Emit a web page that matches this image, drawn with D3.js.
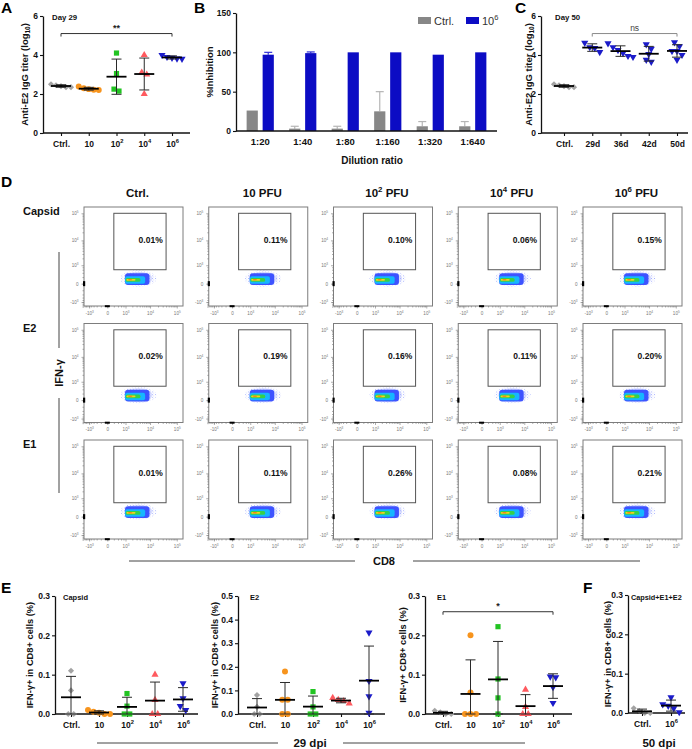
<!DOCTYPE html>
<html><head><meta charset="utf-8">
<script src="https://cdn.jsdelivr.net/npm/d3@7"></script>
<style>body{margin:0;background:#fff}svg{display:block}</style>
</head><body><script>
const FONT='"Liberation Sans", Arial, Helvetica, sans-serif';

// ================= DATA =================
// Panel A – anti-E2 IgG titer (log10), day 29
const aCategories=["Ctrl.","10","10^2","10^4","10^6"];
const aTiters=[[2.5,2.45,2.4,2.35,2.35],[2.38,2.3,2.25,2.22,2.2],[4.1,3.05,2.25,2.15],[4.0,3.1,3.0,2.0],[4.0,3.9,3.85,3.82,3.8]];
const aYTicks=[0,2,4,6];
// Panel B – %inhibition
const bDilutions=["1:20","1:40","1:80","1:160","1:320","1:640"];
const bSeries=["Ctrl.","10^6"];
const bCtrlInhibition=[26,3,3,25,6,6];
const bCtrlError=[0,3,3,25,6,6];
const bHighInhibition=[97,99,100,100,97,100];
const bHighError=[3,1.5,0,0,0,0];
const bYTicks=[0,50,100,150];
// Panel C – anti-E2 IgG titer, day 50
const cTimepoints=["Ctrl.","29d","36d","42d","50d"];
const cTiters=[[2.5,2.45,2.4,2.35,2.35],[4.62,4.4,4.35,4.15],[4.6,4.4,4.25,4.1,3.95,3.9],[4.55,4.32,4.05,3.75,3.65],[4.65,4.45,4.2,4.2,4.0,3.75]];
// Panel D – flow cytometry gates
const dColumns=["Ctrl.","10 PFU","10^2 PFU","10^4 PFU","10^6 PFU"];
const dRows=["Capsid","E2","E1"];
const dPercent=[[0.01,0.11,0.10,0.06,0.15],[0.02,0.19,0.16,0.11,0.20],[0.01,0.11,0.26,0.08,0.21]];
const flowTickValues=[-1000,0,1000,10000,100000];
const flowTickLabels=["-10^3","0","10^3","10^4","10^5"];
// Panel E – IFN-γ+ in CD8+ (%), 29 dpi
const eCategories=["Ctrl.","10","10^2","10^4","10^6"];
const eCapsid=[[0.11,0.06,0,0],[0.01,0.006,0.003,0,0],[0.052,0.02,0,0],[0.1,0.036,0,0],[0.078,0.04,0.02,0.01]];
const eE2=[[0.08,0.03,0,0],[0.18,0.06,0.06,0,0],[0.095,0.03,0,0],[0.068,0.06,0.055,0.045],[0.345,0.14,0.075,0.005]];
const eE1=[[0.008,0.004,0,0],[0.2,0.055,0,0,0],[0.222,0.089,0.041,0],[0.062,0.018,0,0],[0.095,0.093,0.068,0.028]];
// Panel F – 50 dpi
const fCategories=["Ctrl.","10^6"];
const fCombined=[[0.012,0.005,0,0],[0.04,0.022,0.018,0.012,0.002]];
const eYTicks03=[0,0.1,0.2,0.3];
const eYTicks05=[0,0.1,0.2,0.3,0.4,0.5];

// ================= STYLE =================
const DOSE_STYLE=[
  {fill:"#a3a3a3",shape:"diamond"},
  {fill:"#f7941d",shape:"circle"},
  {fill:"#22c422",shape:"square"},
  {fill:"#ff5a5f",shape:"triangle"},
  {fill:"#1b1bc9",shape:"tridown"}];
const GRAY=DOSE_STYLE[0], BLUE=DOSE_STYLE[4];

const svg=d3.select("body").append("svg").attr("width",692).attr("height",749)
  .style("font-family",FONT);

const defs=svg.append("defs");
const pat=defs.append("pattern").attr("id","speckle").attr("width",3.1).attr("height",2.7)
  .attr("patternUnits","userSpaceOnUse");
pat.append("rect").attr("width",0.8).attr("height",0.8).attr("fill","#3f55ff");
pat.append("rect").attr("x",1.6).attr("y",1.4).attr("width",0.7).attr("height",0.7).attr("fill","#6d7dff");
defs.append("filter").attr("id","soft").append("feGaussianBlur").attr("stdDeviation",0.4);

function supText(sel,str,fs){
  str=String(str); sel.text(null);
  const tokens=str.split(/(\^\d+|_\d+)/).filter(t=>t!=="");
  let shift=0;
  tokens.forEach(t=>{
    const ts=sel.append("tspan");
    let target=0,txt=t,size=null;
    if(t[0]==="^"){target=-fs*0.42;txt=t.slice(1);size=fs*0.68;}
    else if(t[0]==="_"){target=fs*0.28;txt=t.slice(1);size=fs*0.68;}
    if(target!==shift){ts.attr("dy",target-shift);shift=target;}
    if(size)ts.attr("font-size",size);
    ts.text(txt);
  });
}
function txt(x,y,s,fs,opt={}){
  const t=svg.append("text").attr("x",x).attr("y",y).attr("font-size",fs)
    .attr("font-weight",opt.weight||"bold").attr("fill",opt.fill||"#111")
    .attr("text-anchor",opt.anchor||"start");
  if(opt.rotate)t.attr("transform",`rotate(${opt.rotate},${x},${y})`);
  if(opt.baseline)t.attr("dominant-baseline",opt.baseline);
  supText(t,s,fs);
  return t;
}
function styleAxis(sel,fs){
  sel.attr("font-family",FONT);
  sel.selectAll("path.domain").attr("stroke","#111").attr("stroke-width",1.3);
  sel.selectAll(".tick line").attr("stroke","#111").attr("stroke-width",1.1);
  sel.selectAll(".tick text").attr("font-size",fs).attr("font-weight","bold").attr("fill","#111");
}
function markerPath(shape){
  if(shape==="diamond")return d3.symbol(d3.symbolSquare,19)();
  if(shape==="circle")return d3.symbol(d3.symbolCircle,28)();
  if(shape==="square")return d3.symbol(d3.symbolSquare,27)();
  return d3.symbol(d3.symbolTriangle,22)();
}
function markerRotate(shape){return shape==="diamond"?45:shape==="tridown"?180:0;}
function swarmOffsets(py,d){
  const idx=d3.range(py.length).sort((a,b)=>py[a]-py[b]);
  const out=new Array(py.length).fill(0);
  let cl=[idx[0]];
  const flush=()=>{const k=cl.length;cl.forEach((id,j)=>out[id]=(j-(k-1)/2)*d);};
  for(let i=1;i<idx.length;i++){
    if(py[idx[i]]-py[idx[i-1]]<d*0.9)cl.push(idx[i]);else{flush();cl=[idx[i]];}
  }
  flush();return out;
}
function bracket(x1,x2,y,label,opt={}){
  const col=opt.color||"#333";
  svg.append("path").attr("d",`M${x1},${y+3}V${y}H${x2}V${y+3}`).attr("fill","none")
    .attr("stroke",col).attr("stroke-width",1);
  txt((x1+x2)/2,y-2.5,label,opt.fs||9,{anchor:"middle",weight:opt.weight||"bold",fill:opt.tfill||"#222"});
}

function dotPanel(o){
  const g=svg.append("g");
  const x=d3.scalePoint().domain(o.cats).range(o.catX);
  const y=d3.scaleLinear().domain(o.yDomain).range(o.yRange);
  const ya=g.append("g").attr("transform",`translate(${o.axisX[0]},0)`)
    .call(d3.axisLeft(y).tickValues(o.yTicks).tickSize(3).tickSizeOuter(0).tickPadding(2).tickFormat(o.yFmt));
  const xa=g.append("g").attr("transform",`translate(0,${o.yRange[0]})`)
    .call(d3.axisBottom(x).tickSize(3).tickSizeOuter(0).tickPadding(o.xPad||4));
  xa.select(".domain").remove();
  styleAxis(ya,o.tickFs);styleAxis(xa,o.tickFs);
  xa.selectAll(".tick text").each(function(d){supText(d3.select(this),d,o.tickFs);});
  g.append("line").attr("x1",o.axisX[0]).attr("x2",o.axisX[1])
    .attr("y1",o.yRange[0]).attr("y2",o.yRange[0]).attr("stroke","#111").attr("stroke-width",1.3);
  o.values.forEach((vals,i)=>{
    const st=o.styles[i],cx=x(o.cats[i]);
    const py=vals.map(v=>y(v)),off=swarmOffsets(py,o.swarm||5.5);
    g.append("g").selectAll("path").data(vals).join("path")
      .attr("d",markerPath(st.shape))
      .attr("transform",(v,j)=>`translate(${cx+off[j]},${py[j]}) rotate(${markerRotate(st.shape)})`)
      .attr("fill",st.fill);
    const m=d3.mean(vals),sd=d3.deviation(vals);
    const hi=y(m+sd),lo=y(Math.max(o.yDomain[0],m-sd));
    const eg=g.append("g").attr("stroke","#2a2a2a").attr("stroke-width",1);
    eg.append("line").attr("x1",cx).attr("x2",cx).attr("y1",hi).attr("y2",lo);
    eg.append("line").attr("x1",cx-5).attr("x2",cx+5).attr("y1",hi).attr("y2",hi);
    eg.append("line").attr("x1",cx-5).attr("x2",cx+5).attr("y1",lo).attr("y2",lo);
    g.append("line").attr("x1",cx-10).attr("x2",cx+10).attr("y1",y(m)).attr("y2",y(m))
      .attr("stroke","#000").attr("stroke-width",1.8);
  });
  const mid=(o.yRange[0]+o.yRange[1])/2;
  txt(o.titleX,mid,o.title,o.titleFs||9.5,{anchor:"middle",rotate:-90,baseline:"middle"});
  return {x,y};
}

// ================= PANEL LETTERS =================
[["A",1,13],["B",194,13],["C",515,13],["D",1,187],["E",1,593],["F",583,593]]
  .forEach(([l,x,y])=>txt(x,y,l,15.5,{fill:"#000"}));

// ================= PANEL A =================
const A=dotPanel({cats:aCategories,values:aTiters,styles:DOSE_STYLE,axisX:[43,190],catX:[61,172],
  yRange:[133,16],yDomain:[0,6],yTicks:aYTicks,yFmt:d3.format("d"),tickFs:8.5,xPad:4.5,
  title:"Anti-E2 IgG titer (log_10)",titleX:25,swarm:5});
txt(52,19.5,"Day 29",7.8);
bracket(A.x("Ctrl."),A.x("10^6"),A.y(5.1),"**",{fs:9});

// ================= PANEL B =================
(function(){
  const g=svg.append("g");
  const x0=d3.scaleBand().domain(bDilutions).range([236,497]).paddingInner(0.36).paddingOuter(0.25);
  const x1=d3.scaleBand().domain(bSeries).range([0,x0.bandwidth()]).paddingInner(0.3);
  const y=d3.scaleLinear().domain([0,150]).range([131,13]);
  const colors={"Ctrl.":"#878787","10^6":"#0c0cc4"};
  const errColors={"Ctrl.":"#b5b5b5","10^6":"#3030d8"};
  const rows=bDilutions.map((d,i)=>({d,items:[
    {s:"Ctrl.",v:bCtrlInhibition[i],e:bCtrlError[i]},
    {s:"10^6",v:bHighInhibition[i],e:bHighError[i]}]}));
  rows.forEach(r=>r.items.forEach(it=>{
    const bx=x0(r.d)+x1(it.s),bw=x1.bandwidth();
    if(it.e>0){
      const cx=bx+bw/2;
      g.append("line").attr("x1",cx).attr("x2",cx).attr("y1",y(it.v)).attr("y2",y(it.v+it.e))
        .attr("stroke",errColors[it.s]).attr("stroke-width",1.2);
      g.append("line").attr("x1",cx-4).attr("x2",cx+4).attr("y1",y(it.v+it.e)).attr("y2",y(it.v+it.e))
        .attr("stroke",errColors[it.s]).attr("stroke-width",1.2);
    }
    g.append("rect").attr("x",bx).attr("y",y(it.v)).attr("width",bw).attr("height",y(0)-y(it.v))
      .attr("fill",colors[it.s]);
  }));
  const ya=g.append("g").attr("transform","translate(236,0)")
    .call(d3.axisLeft(y).tickValues(bYTicks).tickSize(3).tickSizeOuter(0).tickPadding(2));
  const xa=g.append("g").attr("transform","translate(0,131)")
    .call(d3.axisBottom(x0).tickSize(0).tickSizeOuter(0).tickPadding(7));
  xa.select(".domain").remove();
  styleAxis(ya,8.5);styleAxis(xa,9.5);
  g.append("line").attr("x1",236).attr("x2",497).attr("y1",131).attr("y2",131).attr("stroke","#111").attr("stroke-width",1.3);
  txt(210,72,"%Inhibition",9.5,{anchor:"middle",rotate:-90,baseline:"middle"});
  txt(372,164,"Dilution ratio",10,{anchor:"middle"});
  bSeries.forEach((s,i)=>{
    const lx=[418,466][i];
    g.append("rect").attr("x",lx).attr("y",17).attr("width",13).attr("height",7).attr("fill",colors[s]);
    txt(lx+16,24.5,s,11,{weight:"normal",fill:"#333"});
  });
})();

// ================= PANEL C =================
const C=dotPanel({cats:cTimepoints,values:cTiters,styles:[GRAY,BLUE,BLUE,BLUE,BLUE],axisX:[541,688],catX:[564,677],
  yRange:[133,16],yDomain:[0,6],yTicks:aYTicks,yFmt:d3.format("d"),tickFs:8.5,xPad:4.5,
  title:"Anti-E2 IgG titer (log_10)",titleX:529,swarm:5});
txt(555,19.5,"Day 50",7.8);
bracket(C.x("29d"),C.x("50d"),C.y(5.1),"ns",{fs:8.5,weight:"normal",color:"#8a8a8a",tfill:"#444"});

// ================= PANEL D =================
const dBox={left:84,top:207,stepX:124.75,stepY:116.5,size:99};
dColumns.forEach((c,i)=>txt(dBox.left+i*dBox.stepX+dBox.size/2+4,197,c,11.5,{anchor:"middle"}));
dRows.forEach((r,i)=>txt(23,dBox.top+i*dBox.stepY+8,r,11,{}));

const cloudLayers=[
  {x:[950,9500],y:[-30,380],fill:"#2f45ff",op:0.9,rx:3},
  {x:[950,6500],y:[0,230],fill:"#12b6ff",op:1,rx:2},
  {x:[1000,4300],y:[45,165],fill:"#35d04a",op:1,rx:2},
  {x:[1100,2700],y:[75,130],fill:"#f2d31b",op:1,rx:1},
  {x:[1300,2000],y:[92,118],fill:"#ff6a1a",op:1,rx:1}];
const cloudHalo={x:[950,19000],y:[-80,560]};
const flowMinor=[];
for(let v=-1600;v<=800;v+=200)flowMinor.push(v);
for(let e=3;e<=4;e++)for(let m=2;m<=9;m++)flowMinor.push(m*Math.pow(10,e));

for(let r=0;r<dRows.length;r++)for(let c=0;c<dColumns.length;c++){
  const bx=dBox.left+c*dBox.stepX,by=dBox.top+r*dBox.stepY,S=dBox.size;
  const g=svg.append("g");
  const xs=d3.scaleSymlog().constant(270).domain([-1700,170000]).range([bx,bx+S]);
  const ys=d3.scaleSymlog().constant(270).domain([-1500,170000]).range([by+S,by]);
  g.append("rect").attr("x",bx).attr("y",by).attr("width",S).attr("height",S)
    .attr("fill","#fff").attr("stroke","#7d7d7d").attr("stroke-width",1);
  const axes=[
    g.append("g").attr("transform",`translate(0,${by+S})`).call(d3.axisBottom(xs).tickValues(flowMinor).tickSize(1.5).tickFormat("")),
    g.append("g").attr("transform",`translate(${bx},0)`).call(d3.axisLeft(ys).tickValues(flowMinor).tickSize(1.5).tickFormat(""))];
  const xm=g.append("g").attr("transform",`translate(0,${by+S})`)
    .call(d3.axisBottom(xs).tickValues(flowTickValues).tickSize(2.5).tickPadding(3).tickFormat((d,i)=>flowTickLabels[i]));
  const ym=g.append("g").attr("transform",`translate(${bx},0)`)
    .call(d3.axisLeft(ys).tickValues(flowTickValues).tickSize(2.5).tickPadding(3).tickFormat((d,i)=>flowTickLabels[i]));
  [...axes,xm,ym].forEach(a=>{a.select(".domain").remove();
    a.selectAll(".tick line").attr("stroke","#777").attr("stroke-width",0.6);});
  [xm,ym].forEach(a=>a.selectAll(".tick text").attr("font-size",4.6).attr("fill","#777")
    .attr("font-family",FONT).each(function(d,i){supText(d3.select(this),flowTickLabels[i],4.6);}));
  g.append("rect").attr("x",bx-1).attr("y",ys(0)-2.5).attr("width",2.2).attr("height",5).attr("fill","#000");
  g.append("rect").attr("x",xs(0)-2.5).attr("y",by+S-0.8).attr("width",5).attr("height",2).attr("fill","#000");
  // density cloud: speckled halo + dense layered core
  const hx0=xs(cloudHalo.x[0]),hx1=xs(cloudHalo.x[1]),hy0=ys(cloudHalo.y[1]),hy1=ys(cloudHalo.y[0]);
  g.append("ellipse").attr("cx",(hx0+hx1)/2-3).attr("cy",(hy0+hy1)/2).attr("rx",(hx1-hx0)/2+2).attr("ry",(hy1-hy0)/2)
    .attr("fill","url(#speckle)").attr("opacity",0.55);
  g.append("ellipse").attr("cx",(hx0+hx1)/2-3).attr("cy",(hy0+hy1)/2).attr("rx",(hx1-hx0)/2-2).attr("ry",(hy1-hy0)/2-1.5)
    .attr("fill","#6f80ff").attr("opacity",0.25).attr("filter","url(#soft)");
  cloudLayers.forEach(L=>{
    g.append("rect").attr("x",xs(L.x[0])).attr("y",ys(L.y[1]))
      .attr("width",xs(L.x[1])-xs(L.x[0])).attr("height",ys(L.y[0])-ys(L.y[1]))
      .attr("rx",L.rx).attr("fill",L.fill).attr("opacity",L.op).attr("filter","url(#soft)");
  });
  g.append("rect").attr("x",xs(200)).attr("y",ys(100000))
    .attr("width",xs(40000)-xs(200)).attr("height",ys(600)-ys(100000))
    .attr("fill","none").attr("stroke","#555").attr("stroke-width",1);
  g.append("text").attr("x",xs(30000)).attr("y",ys(10000)).attr("dominant-baseline","middle")
    .attr("text-anchor","end").attr("font-size",8.5).attr("font-weight","bold").attr("fill","#111")
    .text(dPercent[r][c].toFixed(2)+"%");
}
svg.append("line").attr("x1",59).attr("x2",59).attr("y1",252).attr("y2",348).attr("stroke","#444");
svg.append("line").attr("x1",59).attr("x2",59).attr("y1",398).attr("y2",493).attr("stroke","#444");
txt(60,373,"IFN-γ",11,{anchor:"middle",rotate:-90,baseline:"middle"});
svg.append("line").attr("x1",129).attr("x2",355).attr("y1",561).attr("y2",561).attr("stroke","#444");
svg.append("line").attr("x1",413).attr("x2",640).attr("y1",561).attr("y2",561).attr("stroke","#444");
txt(384,565,"CD8",11,{anchor:"middle"});

// ================= PANEL E =================
const yFmt1=d3.format(".1f");
dotPanel({cats:eCategories,values:eCapsid,styles:DOSE_STYLE,axisX:[55,198],catX:[71,183],
  yRange:[714,596],yDomain:[0,0.3],yTicks:eYTicks03,yFmt:yFmt1,tickFs:8.5,xPad:5,
  title:"IFN-γ+ in CD8+ cells (%)",titleX:31,titleFs:9.3});
txt(63,599.5,"Capsid",7.5);
dotPanel({cats:eCategories,values:eE2,styles:DOSE_STYLE,axisX:[238,385],catX:[257,369],
  yRange:[714,596],yDomain:[0,0.5],yTicks:eYTicks05,yFmt:yFmt1,tickFs:8.5,xPad:5,
  title:"IFN-γ+ in CD8+ cells (%)",titleX:216,titleFs:9.3});
txt(250,599.5,"E2",7.5);
const E1=dotPanel({cats:eCategories,values:eE1,styles:DOSE_STYLE,axisX:[425,572],catX:[443,553],
  yRange:[714,596],yDomain:[0,0.3],yTicks:eYTicks03,yFmt:yFmt1,tickFs:8.5,xPad:5,
  title:"IFN-γ+ CD8+ cells (%)",titleX:404,titleFs:9.3});
txt(437,599.5,"E1",7.5);
bracket(E1.x("Ctrl."),E1.x("10^6"),E1.y(0.26),"*",{fs:9});
svg.append("line").attr("x1",97).attr("x2",278).attr("y1",743).attr("y2",743).attr("stroke","#444");
svg.append("line").attr("x1",343).attr("x2",525).attr("y1",743).attr("y2",743).attr("stroke","#444");
txt(310,747,"29 dpi",11.5,{anchor:"middle"});

// ================= PANEL F =================
dotPanel({cats:fCategories,values:fCombined,styles:[GRAY,BLUE],axisX:[628,685],catX:[642,671],
  yRange:[713,595],yDomain:[0,0.3],yTicks:eYTicks03,yFmt:yFmt1,tickFs:8.5,xPad:5,
  title:"IFN-γ+ in CD8+ cells (%)",titleX:609,titleFs:9.3});
txt(631,599.5,"Capsid+E1+E2",7.3);
txt(659,747,"50 dpi",11.5,{anchor:"middle"});
</script></body></html>
